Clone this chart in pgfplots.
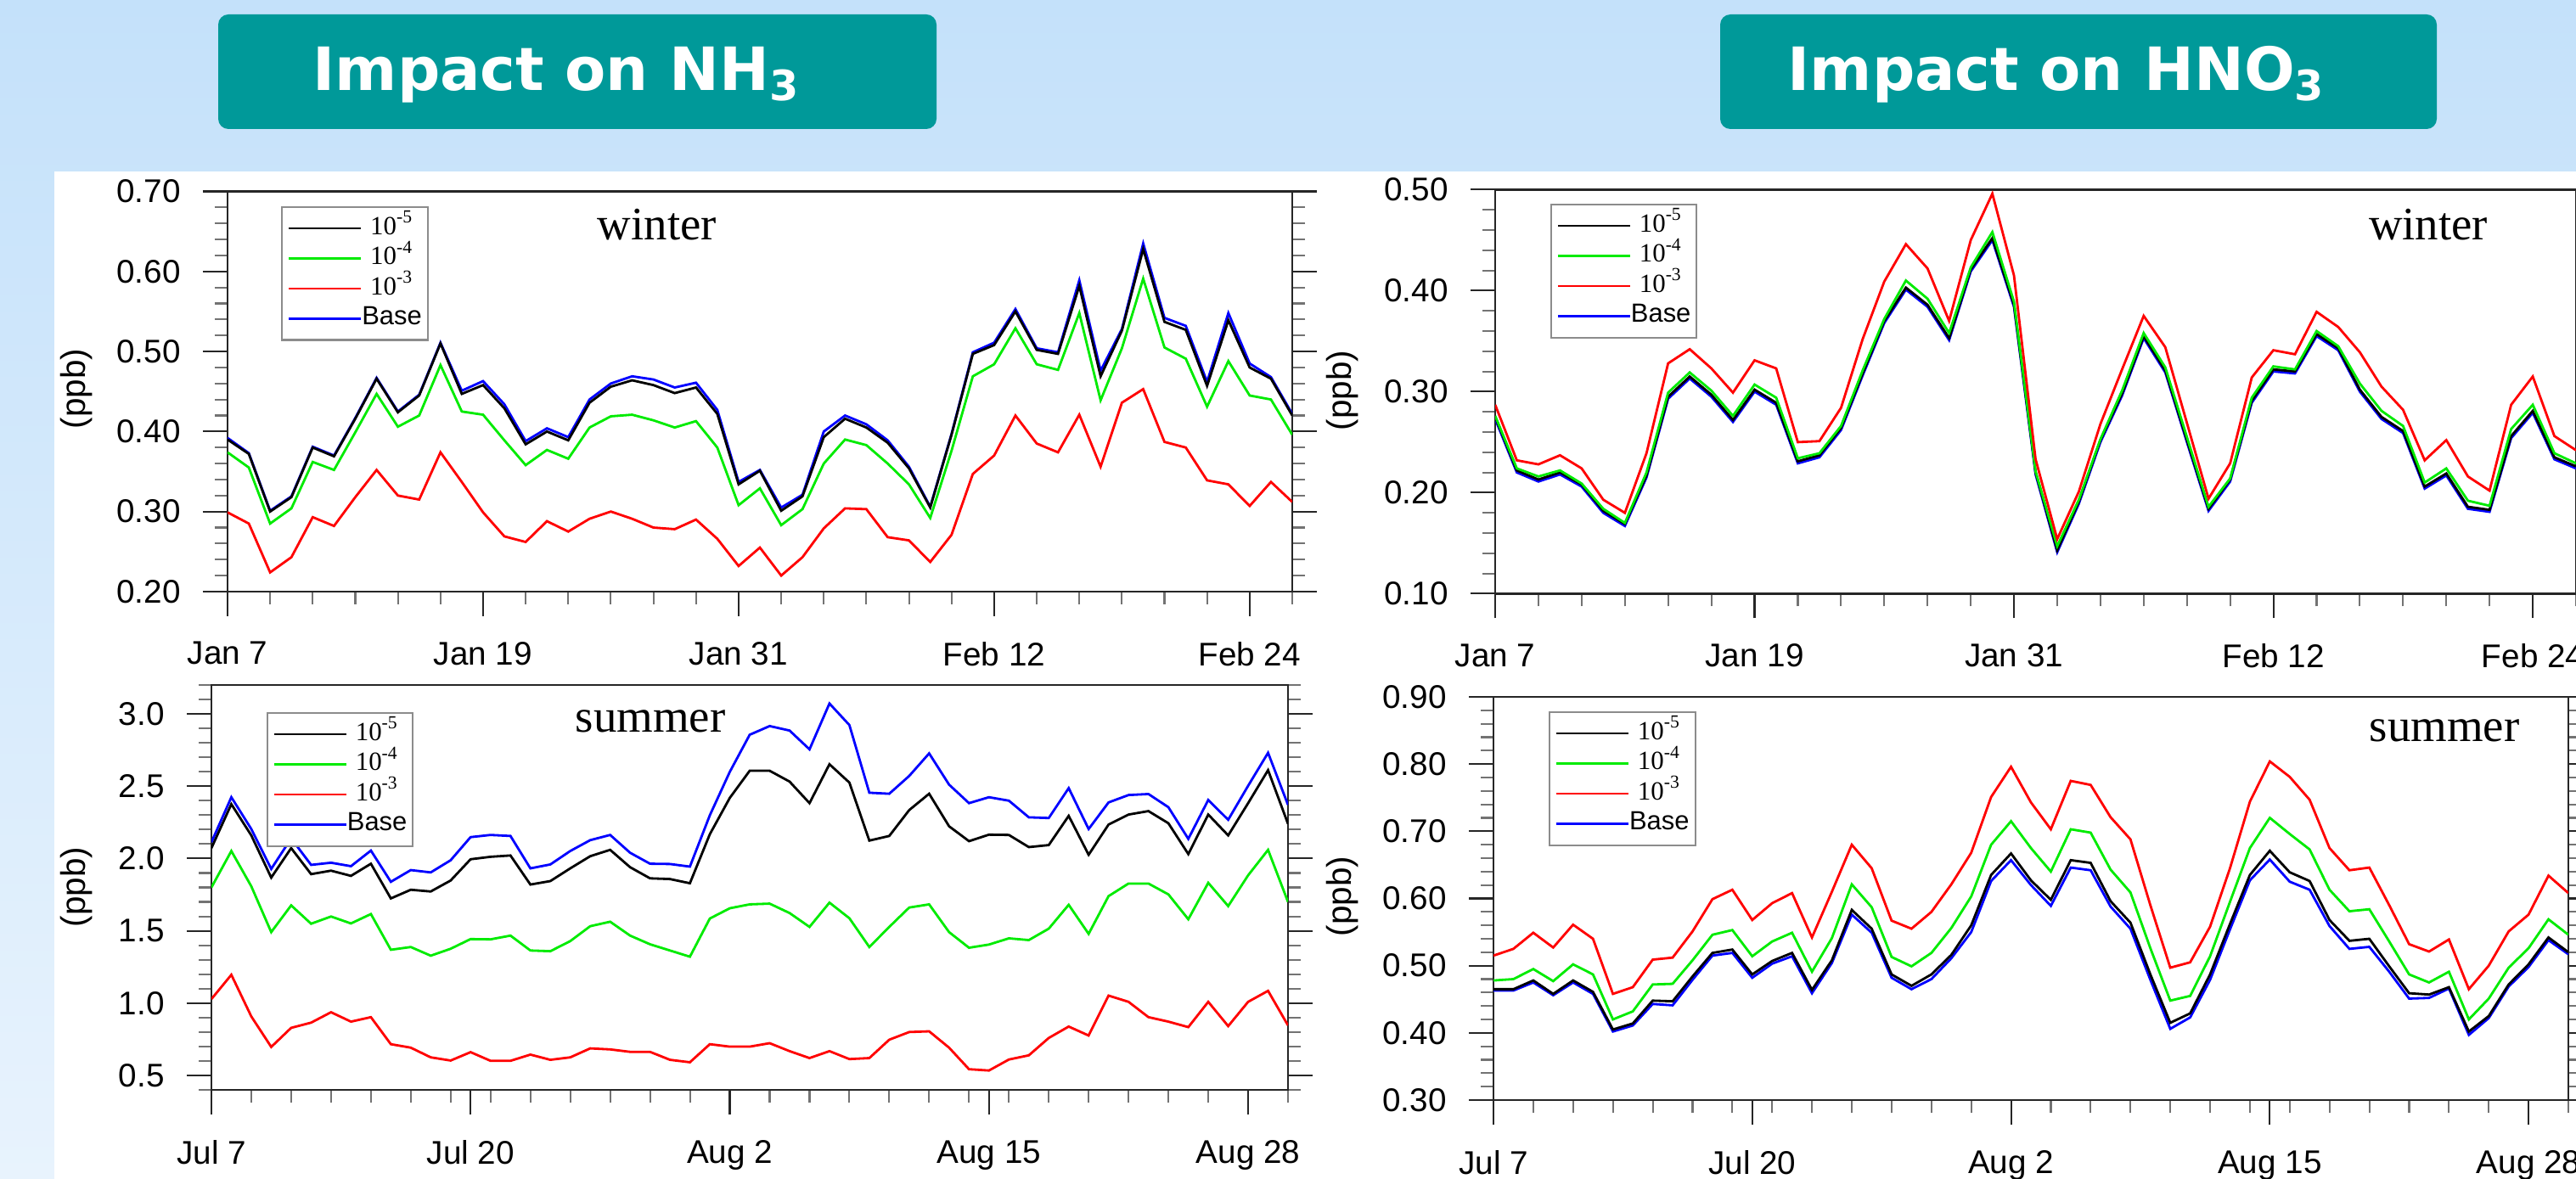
\documentclass[border=0pt]{standalone}
\usepackage{pgfplots}
\pgfplotsset{compat=1.18}
\usepackage{pgfplotstable}
\usepackage{fontspec}
\setmainfont{Liberation Sans}
\newfontfamily\tnr{Liberation Serif}
\newfontfamily\titlefont{DejaVu Sans}
\definecolor{bgtop}{RGB}{196,225,250}
\definecolor{bgbot}{RGB}{232,243,253}
\definecolor{teal1}{RGB}{0,153,153}
\definecolor{ngreen}{RGB}{0,235,0}

% winter NH3: d, 1e-5 (black), 1e-4 (green), 1e-3 (red), Base (blue)
\pgfplotstableread{
d k5 k4 k3 b
0 0.390 0.374 0.299 0.392
1 0.372 0.355 0.285 0.373
2 0.300 0.285 0.224 0.301
3 0.318 0.304 0.243 0.319
4 0.380 0.362 0.293 0.381
5 0.369 0.352 0.282 0.370
6 0.416 0.399 0.318 0.417
7 0.466 0.447 0.352 0.467
8 0.424 0.406 0.320 0.425
9 0.445 0.420 0.315 0.446
10 0.510 0.483 0.374 0.511
11 0.447 0.425 0.337 0.451
12 0.458 0.421 0.299 0.463
13 0.429 0.389 0.269 0.434
14 0.384 0.358 0.262 0.388
15 0.400 0.377 0.288 0.404
16 0.389 0.366 0.275 0.393
17 0.436 0.405 0.291 0.440
18 0.456 0.419 0.300 0.460
19 0.464 0.421 0.291 0.469
20 0.458 0.414 0.280 0.465
21 0.448 0.405 0.278 0.455
22 0.455 0.413 0.290 0.461
23 0.422 0.380 0.266 0.427
24 0.334 0.308 0.232 0.337
25 0.351 0.329 0.255 0.352
26 0.301 0.283 0.220 0.305
27 0.319 0.303 0.243 0.321
28 0.393 0.360 0.279 0.400
29 0.416 0.390 0.304 0.420
30 0.405 0.383 0.303 0.409
31 0.386 0.360 0.268 0.389
32 0.354 0.334 0.264 0.356
33 0.305 0.292 0.237 0.306
34 0.396 0.376 0.271 0.397
35 0.497 0.469 0.347 0.499
36 0.508 0.484 0.370 0.511
37 0.550 0.529 0.420 0.553
38 0.502 0.484 0.385 0.504
39 0.497 0.477 0.374 0.499
40 0.582 0.548 0.421 0.589
41 0.469 0.439 0.356 0.476
42 0.526 0.504 0.436 0.528
43 0.628 0.591 0.453 0.635
44 0.537 0.505 0.387 0.542
45 0.527 0.491 0.380 0.532
46 0.457 0.431 0.339 0.462
47 0.539 0.488 0.334 0.548
48 0.480 0.445 0.307 0.485
49 0.466 0.440 0.337 0.468
50 0.420 0.396 0.312 0.422
}\tl

% summer NH3
\pgfplotstableread{
d k5 k4 k3 b
0 2.072 1.800 1.028 2.112
1 2.376 2.052 1.196 2.424
2 2.160 1.808 0.908 2.204
3 1.868 1.491 0.697 1.928
4 2.072 1.676 0.829 2.139
5 1.892 1.549 0.865 1.956
6 1.916 1.599 0.937 1.971
7 1.880 1.551 0.872 1.947
8 1.964 1.616 0.903 2.055
9 1.724 1.369 0.716 1.839
10 1.784 1.388 0.692 1.920
11 1.772 1.328 0.625 1.904
12 1.848 1.376 0.603 1.988
13 1.995 1.443 0.661 2.148
14 2.012 1.441 0.601 2.163
15 2.021 1.467 0.601 2.156
16 1.820 1.364 0.644 1.932
17 1.844 1.359 0.608 1.959
18 1.932 1.429 0.625 2.052
19 2.016 1.532 0.687 2.127
20 2.060 1.563 0.680 2.163
21 1.940 1.467 0.663 2.040
22 1.863 1.407 0.663 1.964
23 1.858 1.364 0.608 1.962
24 1.829 1.321 0.591 1.944
25 2.168 1.585 0.716 2.299
26 2.419 1.656 0.699 2.599
27 2.607 1.683 0.699 2.856
28 2.607 1.688 0.723 2.916
29 2.532 1.623 0.668 2.885
30 2.383 1.527 0.620 2.755
31 2.652 1.695 0.668 3.072
32 2.525 1.587 0.613 2.923
33 2.124 1.388 0.620 2.455
34 2.156 1.527 0.747 2.448
35 2.335 1.661 0.800 2.571
36 2.448 1.683 0.805 2.727
37 2.223 1.491 0.692 2.511
38 2.120 1.383 0.543 2.383
39 2.165 1.405 0.534 2.424
40 2.163 1.448 0.610 2.400
41 2.079 1.436 0.639 2.285
42 2.093 1.515 0.759 2.280
43 2.295 1.680 0.838 2.487
44 2.026 1.479 0.776 2.204
45 2.235 1.740 1.052 2.388
46 2.304 1.827 1.009 2.439
47 2.328 1.827 0.903 2.446
48 2.244 1.752 0.872 2.355
49 2.031 1.580 0.834 2.136
50 2.304 1.832 1.009 2.405
51 2.160 1.671 0.841 2.268
52 2.383 1.884 1.009 2.503
53 2.611 2.060 1.085 2.731
54 2.240 1.700 0.846 2.371
}\bl

% winter HNO3
\pgfplotstableread{
d k5 k4 k3 b
0 0.275 0.276 0.287 0.273
1 0.222 0.224 0.232 0.220
2 0.213 0.216 0.228 0.211
3 0.220 0.222 0.237 0.218
4 0.208 0.209 0.224 0.206
5 0.182 0.184 0.193 0.180
6 0.169 0.170 0.180 0.167
7 0.217 0.220 0.239 0.215
8 0.295 0.299 0.328 0.293
9 0.315 0.319 0.342 0.313
10 0.297 0.301 0.323 0.295
11 0.272 0.276 0.299 0.270
12 0.302 0.307 0.331 0.300
13 0.289 0.294 0.323 0.287
14 0.231 0.234 0.250 0.229
15 0.237 0.239 0.251 0.235
16 0.264 0.266 0.284 0.262
17 0.318 0.321 0.352 0.316
18 0.370 0.372 0.409 0.368
19 0.403 0.410 0.446 0.401
20 0.386 0.392 0.422 0.384
21 0.353 0.358 0.370 0.351
22 0.421 0.423 0.450 0.419
23 0.452 0.458 0.496 0.450
24 0.386 0.389 0.415 0.384
25 0.220 0.221 0.233 0.218
26 0.143 0.147 0.154 0.141
27 0.191 0.193 0.201 0.189
28 0.252 0.253 0.268 0.250
29 0.298 0.301 0.322 0.296
30 0.355 0.358 0.375 0.353
31 0.321 0.324 0.344 0.319
32 0.252 0.255 0.269 0.250
33 0.184 0.186 0.194 0.182
34 0.213 0.214 0.229 0.211
35 0.291 0.294 0.314 0.289
36 0.322 0.325 0.341 0.320
37 0.320 0.322 0.337 0.318
38 0.357 0.360 0.379 0.355
39 0.343 0.345 0.364 0.341
40 0.302 0.308 0.339 0.300
41 0.275 0.281 0.305 0.273
42 0.261 0.266 0.282 0.259
43 0.206 0.210 0.232 0.204
44 0.219 0.224 0.252 0.217
45 0.186 0.192 0.216 0.184
46 0.183 0.187 0.202 0.181
47 0.256 0.263 0.287 0.254
48 0.281 0.287 0.315 0.279
49 0.235 0.239 0.256 0.233
50 0.226 0.229 0.242 0.224
}\tr

% summer HNO3
\pgfplotstableread{
d k5 k4 k3 b
0 0.465 0.478 0.515 0.463
1 0.465 0.480 0.525 0.463
2 0.478 0.495 0.549 0.475
3 0.458 0.477 0.527 0.456
4 0.478 0.502 0.561 0.475
5 0.461 0.487 0.540 0.458
6 0.405 0.420 0.458 0.402
7 0.414 0.432 0.468 0.411
8 0.448 0.472 0.509 0.443
9 0.447 0.473 0.512 0.441
10 0.484 0.508 0.551 0.479
11 0.519 0.546 0.599 0.515
12 0.524 0.553 0.613 0.519
13 0.487 0.514 0.568 0.482
14 0.507 0.536 0.593 0.503
15 0.519 0.549 0.608 0.514
16 0.464 0.491 0.542 0.459
17 0.508 0.541 0.610 0.504
18 0.583 0.621 0.680 0.576
19 0.555 0.587 0.645 0.549
20 0.487 0.513 0.567 0.482
21 0.470 0.499 0.555 0.465
22 0.487 0.519 0.580 0.480
23 0.516 0.556 0.621 0.511
24 0.560 0.603 0.668 0.550
25 0.635 0.680 0.751 0.626
26 0.667 0.715 0.796 0.657
27 0.627 0.675 0.743 0.620
28 0.598 0.640 0.703 0.589
29 0.657 0.703 0.775 0.646
30 0.653 0.698 0.769 0.642
31 0.596 0.643 0.721 0.588
32 0.564 0.609 0.688 0.555
33 0.487 0.526 0.590 0.479
34 0.415 0.448 0.497 0.406
35 0.429 0.455 0.505 0.423
36 0.487 0.514 0.558 0.479
37 0.562 0.595 0.645 0.554
38 0.635 0.675 0.744 0.627
39 0.671 0.720 0.804 0.658
40 0.639 0.696 0.781 0.625
41 0.626 0.673 0.747 0.613
42 0.568 0.613 0.675 0.559
43 0.537 0.581 0.642 0.525
44 0.540 0.584 0.646 0.528
45 0.499 0.536 0.590 0.491
46 0.459 0.487 0.532 0.451
47 0.457 0.475 0.521 0.452
48 0.468 0.491 0.539 0.466
49 0.402 0.420 0.465 0.397
50 0.425 0.451 0.500 0.422
51 0.472 0.497 0.551 0.469
52 0.502 0.526 0.576 0.498
53 0.542 0.569 0.634 0.538
54 0.520 0.546 0.608 0.517
}\br

\pgfplotsset{
  panel/.style={
    scale only axis, anchor=north west,
    axis line style={line width=0.7pt, black!85},
    tick align=outside,
    xtick pos=lower, ytick pos=both, yticklabel pos=left,
    major tick length=0.29cm, minor tick length=0.15cm,
    every tick/.style={black!85, line width=0.6pt},
    every minor tick/.style={black!55, line width=0.6pt},
    tick label style={font=\fontsize{11}{13}\selectfont},
    xticklabel style={yshift=-0.18cm},
    yticklabel style={xshift=-0.14cm},
    /pgf/number format/assume math mode=true,
    yticklabel style={/pgf/number format/fixed, /pgf/number format/fixed zerofill},
    legend style={draw=black!45, line width=0.6pt, fill=white,
      font=\fontsize{8.8}{10}\selectfont, anchor=north west,
      inner xsep=0.07cm, inner ysep=0.1cm, row sep=0.055cm,
      nodes={inner xsep=0pt, inner ysep=0pt, text height=0.22cm, text depth=0.08cm}},
    legend cell align=center,
    legend image code/.code={\draw[##1, line width=0.8pt] (0cm,0cm) -- (0.845cm,0cm);},
    every axis plot/.append style={line width=0.8pt},
  },
  winter/.style={xmin=0, xmax=50, xtick={0,12,24,36,48},
    xticklabels={Jan 7,Jan 19,Jan 31,Feb 12,Feb 24}, minor xtick={0,2,...,50}},
  summer/.style={xmin=0, xmax=54, xtick={0,13,26,39,52},
    xticklabels={Jul 7,Jul 20,Aug 2,Aug 15,Aug 28}, minor xtick={0,2,...,54}},
}

\newcommand{\series}[1]{%
  \addplot[blue, forget plot] table[x=d,y=b]{#1};
  \addplot[black] table[x=d,y=k5]{#1};
  \addplot[ngreen] table[x=d,y=k4]{#1};
  \addplot[red] table[x=d,y=k3]{#1};
  \addlegendimage{blue}
  \legend{{\tnr 10\textsuperscript{-5}},{\tnr 10\textsuperscript{-4}},{\tnr 10\textsuperscript{-3}},Base}
}

\begin{document}
\begin{tikzpicture}
\shade[top color=bgtop, bottom color=bgbot] (0,0) rectangle (30.34,-13.89);
\fill[white] (0.64,-2.02) rectangle (30.34,-13.89);

\fill[teal1, rounded corners=0.12cm] (2.57,-0.17) rectangle (11.03,-1.52);
\fill[teal1, rounded corners=0.12cm] (20.26,-0.17) rectangle (28.70,-1.52);
\node[anchor=base west, text=white, font=\titlefont\bfseries\fontsize{20}{24}\selectfont, inner sep=0pt] at (3.68,-1.07) {Impact on NH\textsubscript{3}};
\node[anchor=base west, text=white, font=\titlefont\bfseries\fontsize{20}{24}\selectfont, inner sep=0pt] at (21.05,-1.07) {Impact on HNO\textsubscript{3}};

% winter NH3
\begin{axis}[panel, winter, at={(2.68cm,-2.255cm)}, width=12.54cm, height=4.715cm,
  ymin=0.2, ymax=0.7, ytick={0.2,0.3,0.4,0.5,0.6,0.7}, minor ytick={0.2,0.22,...,0.7},
  yticklabel style={/pgf/number format/precision=2},
  legend style={at={(0.0502,0.9629)}}]
\series{\tl}
\end{axis}

% winter HNO3
\begin{axis}[panel, winter, at={(17.61cm,-2.234cm)}, width=12.73cm, height=4.76cm,
  ymin=0.1, ymax=0.5, ytick={0.1,0.2,0.3,0.4,0.5}, minor ytick={0.1,0.12,...,0.5},
  yticklabel style={/pgf/number format/precision=2},
  legend style={at={(0.0507,0.9651)}}]
\series{\tr}
\end{axis}

% summer NH3
\begin{axis}[panel, summer, at={(2.49cm,-8.07cm)}, width=12.68cm, height=4.77cm,
  ymin=0.4, ymax=3.2, ytick={0.5,1.0,1.5,2.0,2.5,3.0}, minor ytick={0.4,0.5,...,3.2},
  yticklabel style={/pgf/number format/precision=1},
  legend style={at={(0.0509,0.9329)}}]
\series{\bl}
\end{axis}

% summer HNO3
\begin{axis}[panel, summer, at={(17.59cm,-8.21cm)}, width=12.66cm, height=4.75cm,
  ymin=0.3, ymax=0.9, ytick={0.3,0.4,0.5,0.6,0.7,0.8,0.9}, minor ytick={0.3,0.32,...,0.9},
  yticklabel style={/pgf/number format/precision=2},
  legend style={at={(0.0511,0.9642)}}]
\series{\br}
\end{axis}

\node[anchor=base, font=\tnr\fontsize{15.6}{18}\selectfont] at (7.74,-2.83) {winter};
\node[anchor=base, font=\tnr\fontsize{15.6}{18}\selectfont] at (28.60,-2.83) {winter};
\node[anchor=base, font=\tnr\fontsize{15.6}{18}\selectfont] at (7.66,-8.62) {summer};
\node[anchor=base, font=\tnr\fontsize{15.6}{18}\selectfont] at (28.79,-8.73) {summer};

\node[rotate=90, font=\fontsize{11.5}{13}\selectfont] at (0.90,-4.58) {(ppb)};
\node[rotate=90, font=\fontsize{11.5}{13}\selectfont] at (15.81,-4.60) {(ppb)};
\node[rotate=90, font=\fontsize{11.5}{13}\selectfont] at (0.90,-10.45) {(ppb)};
\node[rotate=90, font=\fontsize{11.5}{13}\selectfont] at (15.81,-10.56) {(ppb)};

\pgfresetboundingbox
\path[use as bounding box] (0,0) rectangle (30.34,-13.89);
\end{tikzpicture}
\end{document}
